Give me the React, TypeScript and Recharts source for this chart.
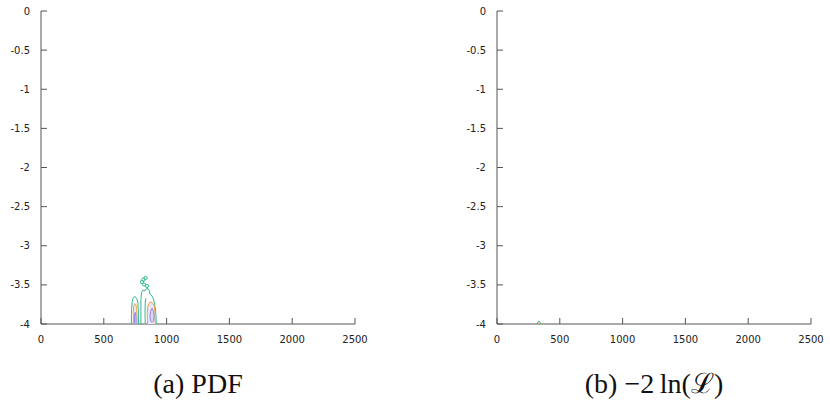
import React from 'react';
import { ScatterChart, Scatter, XAxis, YAxis } from 'recharts';

const xTicks = [0, 500, 1000, 1500, 2000, 2500];
const yTicks = [-4, -3.5, -3, -2.5, -2, -1.5, -1, -0.5, 0];
const captions = ['(a) PDF', '(b) \u22122\u2009ln(\u2112)'];

// Left panel (PDF) contours
const pdfTealA = [
  { x: 720, y: -4 }, { x: 720, y: -3.88 }, { x: 723, y: -3.77 }, { x: 727, y: -3.71 },
  { x: 732, y: -3.675 }, { x: 740, y: -3.655 }, { x: 748, y: -3.65 }, { x: 756, y: -3.66 },
  { x: 764, y: -3.68 }, { x: 771, y: -3.72 }, { x: 774, y: -3.8 }, { x: 776, y: -3.9 }, { x: 777, y: -4 },
];
const pdfOrangeA = [
  { x: 735, y: -4 }, { x: 735, y: -3.85 }, { x: 738, y: -3.77 }, { x: 746, y: -3.74 },
  { x: 755, y: -3.75 }, { x: 762, y: -3.8 }, { x: 764, y: -3.9 }, { x: 765, y: -4 },
];
const pdfBlueA = [
  { x: 744, y: -4 }, { x: 744, y: -3.9 }, { x: 750, y: -3.85 }, { x: 756, y: -3.9 }, { x: 757, y: -4 },
];
const pdfTealB = [
  { x: 796, y: -4 }, { x: 795, y: -3.82 }, { x: 796, y: -3.69 }, { x: 800, y: -3.6 },
  { x: 812, y: -3.566 }, { x: 828, y: -3.578 }, { x: 836, y: -3.553 }, { x: 852, y: -3.546 },
  { x: 864, y: -3.578 }, { x: 868, y: -3.617 }, { x: 884, y: -3.642 }, { x: 896, y: -3.681 },
  { x: 904, y: -3.745 }, { x: 912, y: -3.821 }, { x: 916, y: -3.924 }, { x: 917, y: -4 },
];
const pdfTealB2 = [
  { x: 830, y: -4 }, { x: 828, y: -3.85 }, { x: 830, y: -3.72 }, { x: 836, y: -3.67 },
];
const pdfOrangeB = [
  { x: 848, y: -4 }, { x: 846, y: -3.847 }, { x: 852, y: -3.757 }, { x: 868, y: -3.719 },
  { x: 884, y: -3.725 }, { x: 900, y: -3.757 }, { x: 908, y: -3.847 }, { x: 909, y: -4 },
];
const pdfBlueB = [
  { x: 884, y: -3.8 }, { x: 896, y: -3.84 }, { x: 900, y: -3.9 }, { x: 896, y: -3.96 },
  { x: 884, y: -3.98 }, { x: 872, y: -3.96 }, { x: 868, y: -3.9 }, { x: 872, y: -3.84 }, { x: 884, y: -3.8 },
];
const pdfIslands = [
  { x: 804, y: -3.463 }, { x: 816, y: -3.431 }, { x: 832, y: -3.412 }, { x: 820, y: -3.495 }, { x: 844, y: -3.514 },
];

// Right panel (-2 ln L) contours
const likeTeal = [
  { x: 322, y: -4 }, { x: 325, y: -3.975 }, { x: 334, y: -3.965 }, { x: 343, y: -3.975 }, { x: 346, y: -4 },
];
const likeOrange = [
  { x: 328, y: -4 }, { x: 334, y: -3.985 }, { x: 340, y: -4 },
];

const TEAL = '#33b894';
const ORANGE = '#f0a43c';
const BLUE = '#8a86ec';
const LAV = '#e9e6f7';

type Pt = { x: number; y: number };
type Contour = { pts: Pt[]; stroke: string; fill: string };

const leftContours: Contour[] = [
  { pts: pdfTealA, stroke: TEAL, fill: 'none' },
  { pts: pdfOrangeA, stroke: ORANGE, fill: LAV },
  { pts: pdfBlueA, stroke: BLUE, fill: '#dcd8f4' },
  { pts: pdfTealB, stroke: TEAL, fill: 'none' },
  { pts: pdfTealB2, stroke: TEAL, fill: 'none' },
  { pts: pdfOrangeB, stroke: ORANGE, fill: LAV },
  { pts: pdfBlueB, stroke: BLUE, fill: '#dcd8f4' },
];
const rightContours: Contour[] = [
  { pts: likeTeal, stroke: TEAL, fill: 'none' },
  { pts: likeOrange, stroke: ORANGE, fill: LAV },
];

const AXIS = '#555';
const tickStyle = { fontSize: 10, fontFamily: 'DejaVu Sans', fill: '#222' };

const NoShape = () => <g />;
const Island = (p: any) => (
  <circle cx={p.cx} cy={p.cy} r={1.6} fill="none" stroke={TEAL} strokeWidth={1} />
);

function Panel({ width, contours, islands }: { width: number; contours: Contour[]; islands: Pt[] }) {
  return (
    <ScatterChart width={width} height={350} margin={{ top: 11, right: width - 355, bottom: 0, left: 5 }}>
      <XAxis xAxisId="b" type="number" dataKey="x" domain={[0, 2500]} ticks={xTicks} orientation="bottom"
        height={26} tickSize={-6} tickMargin={18} stroke={AXIS} tick={tickStyle} interval={0} allowDataOverflow />
      <XAxis xAxisId="t" type="number" dataKey="x" domain={[0, 2500]} ticks={xTicks} orientation="top"
        height={0} tickSize={-6} stroke={AXIS} tick={false} interval={0} allowDataOverflow />
      <YAxis yAxisId="l" type="number" dataKey="y" domain={[-4, 0]} ticks={yTicks} orientation="left"
        width={36} tickSize={-6} tickMargin={17} stroke={AXIS} tick={tickStyle} interval={0} allowDataOverflow />
      <YAxis yAxisId="r" type="number" dataKey="y" domain={[-4, 0]} ticks={yTicks} orientation="right"
        width={0} tickSize={-6} stroke={AXIS} tick={false} interval={0} allowDataOverflow />
      {contours.map((c, i) => (
        <Scatter key={i} xAxisId="b" yAxisId="l" data={c.pts}
          line={{ stroke: c.stroke, fill: c.fill, strokeWidth: 1 }} lineJointType="linear"
          shape={NoShape} isAnimationActive={false} legendType="none" />
      ))}
      {islands.length > 0 && (
        <Scatter xAxisId="b" yAxisId="l" data={islands} shape={Island} isAnimationActive={false} legendType="none" />
      )}
    </ScatterChart>
  );
}

const captionStyle: React.CSSProperties = {
  position: 'absolute', top: 369, width: 300, textAlign: 'center', lineHeight: '30px',
  fontFamily: 'Liberation Serif', fontSize: 28, color: '#111',
};

export default function App() {
  return (
    <div style={{ position: 'absolute', left: 0, top: 0, width: 830, height: 412, background: '#fff', overflow: 'hidden' }}>
      <div style={{ position: 'absolute', left: 0, top: 0 }}>
        <Panel width={400} contours={leftContours} islands={pdfIslands} />
      </div>
      <div style={{ position: 'absolute', left: 456, top: 0 }}>
        <Panel width={374} contours={rightContours} islands={[]} />
      </div>
      <div style={{ ...captionStyle, left: 48 }}>{captions[0]}</div>
      <div style={{ ...captionStyle, left: 504 }}>{captions[1]}</div>
    </div>
  );
}
